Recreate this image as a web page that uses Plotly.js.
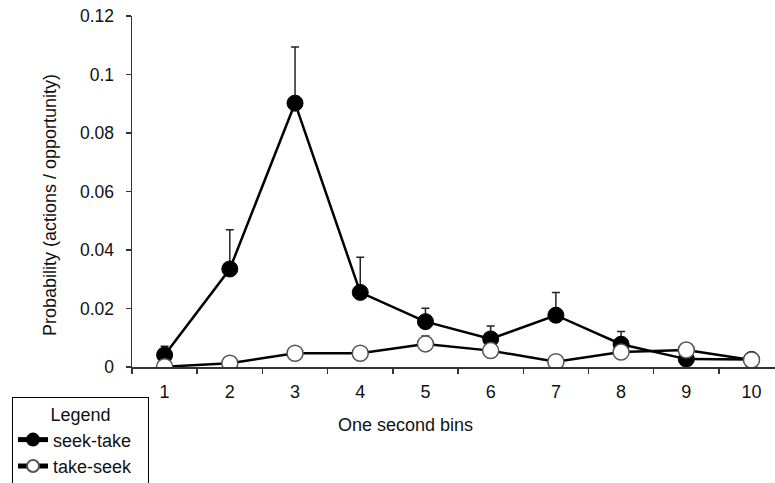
<!DOCTYPE html>
<html>
<head>
<meta charset="utf-8">
<script src="https://cdn.plot.ly/plotly-3.0.1.min.js"></script>
<style>html,body{margin:0;padding:0;background:#fff;}#chart{width:775px;height:483px;}</style>
</head>
<body>
<div id="chart"></div>
<script>
var bins = [1, 2, 3, 4, 5, 6, 7, 8, 9, 10];
var binLabels = ["1", "2", "3", "4", "5", "6", "7", "8", "9", "10"];
var binEdges = [0.5, 1.5, 2.5, 3.5, 4.5, 5.5, 6.5, 7.5, 8.5, 9.5];
var seekTake = [0.0041, 0.0335, 0.0902, 0.0255, 0.0155, 0.0096, 0.0177, 0.0078, 0.0027, 0.0026];
var seekTakeErr = [0.0030, 0.0134, 0.0192, 0.0120, 0.0046, 0.0044, 0.0078, 0.0043, 0.0010, 0.0005];
var takeSeek = [0.0001, 0.0013, 0.0047, 0.0047, 0.0079, 0.0056, 0.0018, 0.0051, 0.0058, 0.0024];
var takeSeekErr = [0.0005, 0.0010, 0.0010, 0.0010, 0.0027, 0.0010, 0.0010, 0.0010, 0.0010, 0.0005];
var yTicks = [0, 0.02, 0.04, 0.06, 0.08, 0.1, 0.12];
var yTickLabels = ["0", "0.02", "0.04", "0.06", "0.08", "0.1", "0.12"];

var FONT = "Liberation Sans, Arial, Helvetica, sans-serif";
var zeros = bins.map(function(){return 0;});
var pad = "\u00a0\u00a0\u00a0\u00a0\u00a0\u00a0\u00a0";

var traces = [
  {
    x: bins, y: seekTake, name: "seek-take", type: "scatter", mode: "lines+markers",
    line: {color: "#000", width: 2.5},
    marker: {color: "#000", size: 16, line: {color: "#000", width: 1}},
    error_y: {type: "data", symmetric: false, array: seekTakeErr, arrayminus: zeros,
              color: "#222", thickness: 1.5, width: 4}
  },
  {
    x: bins, y: takeSeek, name: "take-seek", type: "scatter", mode: "lines+markers",
    line: {color: "#000", width: 2.5},
    marker: {color: "#fff", size: 16, line: {color: "#555", width: 1.5}},
    error_y: {type: "data", symmetric: false, array: takeSeekErr, arrayminus: zeros,
              color: "#222", thickness: 1.5, width: 4}
  }
];

var layout = {
  width: 775, height: 483,
  margin: {l: 132, r: 0, t: 16, b: 116, pad: 0, autoexpand: false},
  paper_bgcolor: "#fff", plot_bgcolor: "#fff",
  font: {family: FONT, size: 18, color: "#111"},
  showlegend: true,
  xaxis: {
    range: [0.5, 10.36],
    tickmode: "array", tickvals: bins, ticktext: binLabels,
    ticks: "", showgrid: false, zeroline: false,
    showline: true, linecolor: "#333", linewidth: 1.5,
    tickfont: {family: FONT, size: 18, color: "#111"},
    ticklabelstandoff: 8,
    minor: {tickmode: "array", tickvals: binEdges, ticks: "outside", ticklen: 5,
            tickwidth: 1.5, tickcolor: "#333", showgrid: false}
  },
  yaxis: {
    range: [0, 0.12],
    tickmode: "array", tickvals: yTicks, ticktext: yTickLabels,
    ticks: "outside", ticklen: 5, tickwidth: 1.5, tickcolor: "#333",
    showgrid: false, zeroline: false,
    showline: true, linecolor: "#333", linewidth: 1.5,
    tickfont: {family: FONT, size: 17.5, color: "#111"},
    ticklabelstandoff: 8
  },
  legend: {
    x: -0.1866, y: -0.0855, xanchor: "left", yanchor: "top",
    bgcolor: "#fff", bordercolor: "#000", borderwidth: 1,
    font: {family: FONT, size: 18, color: "#111"},
    title: {text: pad + "Legend" + pad, side: "top center", font: {family: FONT, size: 18, color: "#111"}},
    itemsizing: "constant",
    tracegroupgap: 0
  },
  annotations: [
    {text: "One second bins", xref: "paper", yref: "paper", x: 0.4246, y: -0.165,
     xanchor: "center", yanchor: "middle", showarrow: false,
     font: {family: FONT, size: 18, color: "#111"}},
    {text: "Probability (actions / opportunity)", xref: "paper", yref: "paper",
     x: -0.1275, y: 0.4615, xanchor: "center", yanchor: "middle", textangle: -90,
     showarrow: false, font: {family: FONT, size: 18, color: "#111"}}
  ]
};

Plotly.newPlot("chart", traces, layout, {displayModeBar: false, staticPlot: true});
</script>
</body>
</html>
